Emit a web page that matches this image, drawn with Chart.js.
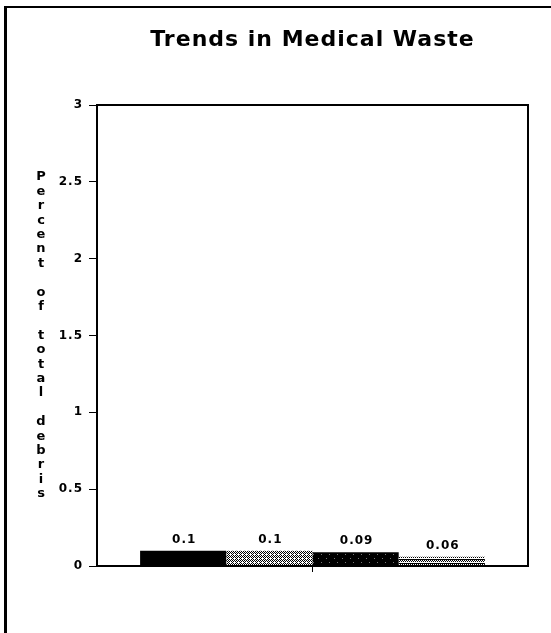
<!DOCTYPE html>
<html>
<head>
<meta charset="utf-8">
<script src="https://cdn.jsdelivr.net/npm/chart.js@4.4.0/dist/chart.umd.min.js"></script>
<style>
    body { margin: 0; background: #fff; }
    #frame {
        position: absolute; left: 4px; top: 6px; width: 547px; height: 627px;
        border-left: 3px solid #000; border-top: 2px solid #000;
    }
    #wrap { position: absolute; left: 0; top: 0; width: 551px; height: 633px; }
</style>
</head>
<body>
<div id="frame"></div>
<div id="wrap"><canvas id="chart" width="551" height="633"></canvas></div>
<script>
const chartTitle = 'Trends in Medical Waste';
const yAxisTitle = 'Percent of total debris';
const categories = [''];
const seriesNames = ['Series 1', 'Series 2', 'Series 3', 'Series 4'];
const seriesValues = [0.1, 0.1, 0.09, 0.06];
const yMin = 0;
const yMax = 3;
const yStep = 0.5;

const FONT = '"DejaVu Sans", Verdana, sans-serif';

function makePattern(size, draw) {
    const c = document.createElement('canvas');
    c.width = size; c.height = size;
    const g = c.getContext('2d');
    draw(g, size);
    return document.getElementById('chart').getContext('2d').createPattern(c, 'repeat');
}

const solidBlack = '#000';
const crossHatch = makePattern(4, (g) => {
    g.fillStyle = '#fff'; g.fillRect(0, 0, 4, 4);
    g.fillStyle = '#000';
    g.fillRect(0, 0, 1, 1); g.fillRect(2, 0, 1, 1);
    g.fillRect(1, 1, 1, 1); g.fillRect(3, 1, 1, 1);
    g.fillRect(0, 2, 1, 1);
    g.fillRect(1, 3, 1, 1); g.fillRect(3, 3, 1, 1);
});
const speckled = makePattern(8, (g) => {
    g.fillStyle = '#000'; g.fillRect(0, 0, 8, 8);
    g.fillStyle = '#777';
    g.fillRect(1, 2, 1, 1); g.fillRect(6, 6, 1, 1);
});
const zigzag = makePattern(4, (g) => {
    g.fillStyle = '#fff'; g.fillRect(0, 0, 4, 4);
    g.fillStyle = '#000';
    g.fillRect(0, 0, 1, 1); g.fillRect(1, 1, 1, 1); g.fillRect(2, 0, 1, 1); g.fillRect(3, 1, 1, 1);
    g.fillRect(0, 3, 4, 1);
});
const fills = [solidBlack, crossHatch, speckled, zigzag];

const frameAndLabels = {
    id: 'frameAndLabels',
    beforeLayout(chart) {
        chart.ctx.letterSpacing = '1px';
    },
    beforeDraw(chart) {
        chart.ctx.letterSpacing = '1px';
    },
    afterDraw(chart) {
        const ctx = chart.ctx;
        const a = chart.chartArea;
        ctx.save();
        ctx.strokeStyle = '#000';
        ctx.lineWidth = 2;
        ctx.strokeRect(a.left, a.top, a.right - a.left, a.bottom - a.top);

        // chart title, centred over the plot
        ctx.fillStyle = '#000';
        ctx.letterSpacing = '1px';
        ctx.font = 'bold 22px ' + FONT;
        ctx.textAlign = 'center';
        ctx.textBaseline = 'middle';
        ctx.fillText(chartTitle, (a.left + a.right) / 2, 40);

        // value labels above bars
        ctx.font = 'bold 12px ' + FONT;
        ctx.textBaseline = 'bottom';
        chart.data.datasets.forEach((ds, i) => {
            const meta = chart.getDatasetMeta(i);
            meta.data.forEach((bar, j) => {
                ctx.fillText(String(ds.data[j]), bar.x + 1, bar.y - 5);
            });
        });

        // stacked vertical axis title
        ctx.letterSpacing = '0px';
        ctx.font = 'bold 13px ' + FONT;
        ctx.textBaseline = 'middle';
        const chars = yAxisTitle.split('');
        const step = 14.4;
        const mid = (a.top + a.bottom) / 2;
        const start = mid - step * (chars.length - 1) / 2;
        chars.forEach((ch, k) => {
            if (ch !== ' ') ctx.fillText(ch, 41, start + k * step);
        });
        ctx.restore();
    }
};

new Chart(document.getElementById('chart'), {
    type: 'bar',
    data: {
        labels: categories,
        datasets: seriesNames.map((name, i) => ({
            label: name,
            data: [seriesValues[i]],
            backgroundColor: fills[i],
            borderColor: '#000',
            borderWidth: 0,
            categoryPercentage: 0.8,
            barPercentage: 1
        }))
    },
    options: {
        responsive: false,
        animation: false,
        layout: { padding: { left: 0, right: 23, top: 105, bottom: 0 } },
        plugins: {
            legend: { display: false },
            tooltip: { enabled: false },
            title: { display: false }
        },
        scales: {
            x: {
                grid: { display: true, drawOnChartArea: false, offset: false, tickLength: 6, color: '#000', lineWidth: 1 },
                border: { display: true, color: '#000', width: 2 },
                ticks: { display: true, font: { family: FONT, size: 12 } },
                afterFit(scale) { scale.height = 67; }
            },
            y: {
                min: yMin,
                max: yMax,
                ticks: {
                    stepSize: yStep,
                    color: '#000',
                    padding: 6,
                    font: { family: FONT, size: 12, weight: 'bold' },
                    callback: (v) => String(Number(v))
                },
                grid: { drawOnChartArea: false, tickLength: 8, color: '#000', lineWidth: 1 },
                border: { display: true, color: '#000', width: 2 },
                afterFit(scale) { scale.width = 97; }
            }
        }
    },
    plugins: [frameAndLabels]
});
</script>
</body>
</html>
